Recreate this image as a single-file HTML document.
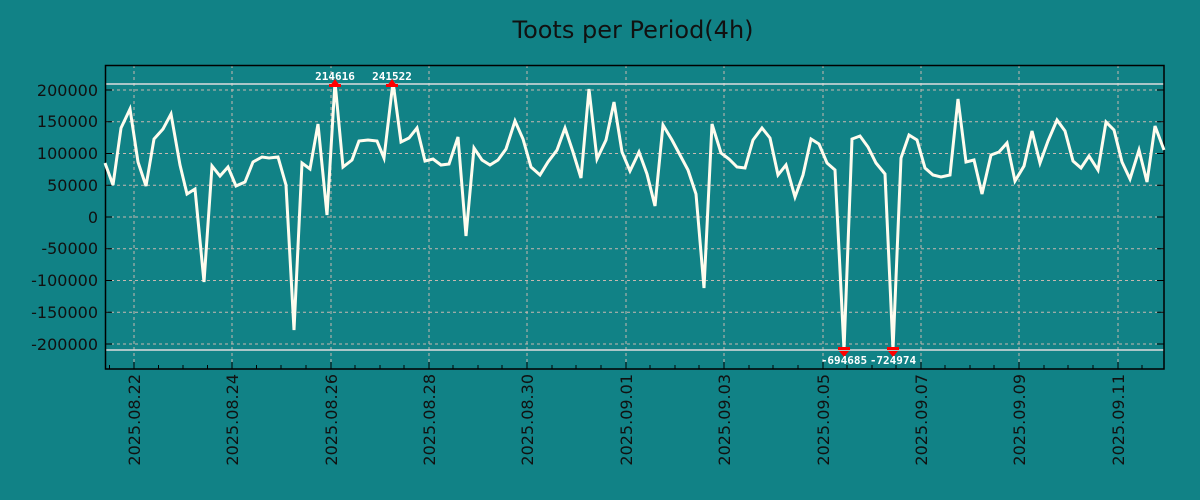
<!DOCTYPE html>
<html><head><style>body{margin:0;background:#118286;}svg{display:block}</style></head><body>
<svg width="1200" height="500" xmlns="http://www.w3.org/2000/svg" font-family="DejaVu Sans, sans-serif">
<rect width="1200" height="500" fill="#118286"/>
<text x="633" y="38" font-size="24" text-anchor="middle" fill="#111">Toots per Period(4h)</text>
<g stroke="#c8b8b0" stroke-width="1" stroke-dasharray="3,3">
<line x1="105" x2="1164" y1="90" y2="90"/><line x1="105" x2="1164" y1="121.7" y2="121.7"/><line x1="105" x2="1164" y1="153.5" y2="153.5"/><line x1="105" x2="1164" y1="185.2" y2="185.2"/><line x1="105" x2="1164" y1="217" y2="217"/><line x1="105" x2="1164" y1="248.7" y2="248.7"/><line x1="105" x2="1164" y1="280.5" y2="280.5"/><line x1="105" x2="1164" y1="312.2" y2="312.2"/><line x1="105" x2="1164" y1="344" y2="344"/>
<line y1="65" y2="369" x1="134" x2="134"/><line y1="65" y2="369" x1="232" x2="232"/><line y1="65" y2="369" x1="331" x2="331"/><line y1="65" y2="369" x1="429" x2="429"/><line y1="65" y2="369" x1="527" x2="527"/><line y1="65" y2="369" x1="626" x2="626"/><line y1="65" y2="369" x1="724" x2="724"/><line y1="65" y2="369" x1="823" x2="823"/><line y1="65" y2="369" x1="921" x2="921"/><line y1="65" y2="369" x1="1019" x2="1019"/><line y1="65" y2="369" x1="1118" x2="1118"/>
</g>
<g stroke="#000" stroke-width="1">
<path d="M109.5,369v-4M134,369v-7M158.5,369v-4M183,369v-4M207.5,369v-4M232,369v-7M256.5,369v-4M281,369v-4M306,369v-4M331,369v-7M355,369v-4M380,369v-4M404,369v-4M429,369v-7M453,369v-4M478,369v-4M502,369v-4M527,369v-7M552,369v-4M576,369v-4M601,369v-4M626,369v-7M650,369v-4M675,369v-4M699,369v-4M724,369v-7M749,369v-4M773,369v-4M798,369v-4M823,369v-7M847,369v-4M872,369v-4M896,369v-4M921,369v-7M945,369v-4M970,369v-4M994,369v-4M1019,369v-7M1044,369v-4M1068,369v-4M1093,369v-4M1118,369v-7M1142,369v-4"/>
<path d="M1164,90h-7M1164,121.7h-7M1164,153.5h-7M1164,185.2h-7M1164,217h-7M1164,248.7h-7M1164,280.5h-7M1164,312.2h-7M1164,344h-7M105,90h7M105,121.7h7M105,153.5h7M105,185.2h7M105,217h7M105,248.7h7M105,280.5h7M105,312.2h7M105,344h7"/>
</g>
<line x1="105" x2="1164" y1="84" y2="84" stroke="#ddd" stroke-width="1.5"/>
<line x1="105" x2="1164" y1="350" y2="350" stroke="#ddd" stroke-width="1.5"/>
<rect x="105.5" y="65.5" width="1058.5" height="303.5" fill="none" stroke="#000" stroke-width="1.5"/>
<g font-size="16" fill="#111" text-anchor="end">
<text x="98" y="96">200000</text><text x="98" y="127">150000</text><text x="98" y="159">100000</text><text x="98" y="191">50000</text><text x="98" y="223">0</text><text x="98" y="254">-50000</text><text x="98" y="286">-100000</text><text x="98" y="318">-150000</text><text x="98" y="350">-200000</text>
</g>
<g font-size="16" fill="#111" text-anchor="end">
<text transform="translate(140,374) rotate(-90)">2025.08.22</text>
<text transform="translate(238,374) rotate(-90)">2025.08.24</text>
<text transform="translate(337,374) rotate(-90)">2025.08.26</text>
<text transform="translate(435,374) rotate(-90)">2025.08.28</text>
<text transform="translate(533,374) rotate(-90)">2025.08.30</text>
<text transform="translate(632,374) rotate(-90)">2025.09.01</text>
<text transform="translate(730,374) rotate(-90)">2025.09.03</text>
<text transform="translate(829,374) rotate(-90)">2025.09.05</text>
<text transform="translate(927,374) rotate(-90)">2025.09.07</text>
<text transform="translate(1025,374) rotate(-90)">2025.09.09</text>
<text transform="translate(1124,374) rotate(-90)">2025.09.11</text>
</g>
<polyline fill="none" stroke="#fffcee" stroke-width="3" stroke-linejoin="miter" points="105,163 113,185 121,128 130,109 138,162 146,186 154,139 163,129 171,114 180,165 187,194 195,189 204,282 212,166 220,176 228,167 236,186 245,182 253,162 262,157 269,158 278,157 286,185 294,330 302,163 310,169 318,124 327,215 335,82 343,167 352,160 359,141 368,140 377,141 384,158 393,82 401,142 409,138 417,128 425,161 433,159 441,165 449,164 458,137 466,236 474,148 482,160 490,165 498,160 506,149 515,121 523,139 531,167 540,175 548,162 557,150 565,128 573,152 581,178 589,89 597,159 606,140 614,102 622,152 630,171 639,152 647,174 655,206 663,125 672,140 680,155 688,170 696,194 704,288 712,124 721,153 729,159 737,167 745,168 753,140 762,128 770,138 778,175 786,165 795,197 803,175 811,139 819,144 827,163 835,170 844,350 852,139 860,136 868,147 876,163 885,174 893,350 901,158 909,135 917,140 925,168 933,175 941,177 950,175 958,99 966,162 974,160 982,194 991,155 999,152 1007,143 1015,181 1024,166 1032,131 1040,163 1048,141 1057,120 1065,131 1073,161 1081,168 1089,156 1098,170 1106,122 1114,130 1122,162 1130,179 1139,150 1147,182 1155,126 1164,150"/>
<g fill="#f00">
<polygon points="330,86 335,79 340,86"/><rect x="329" y="84" width="12" height="3"/>
<polygon points="387,86 392,79 397,86"/><rect x="386" y="84" width="12" height="3"/>
<polygon points="839,351 844,357 849,351"/><rect x="838" y="347" width="12" height="3"/>
<polygon points="888,351 893,357 898,351"/><rect x="887" y="347" width="12" height="3"/>
</g>
<g font-family="DejaVu Sans Mono, monospace" font-size="11" font-weight="bold" fill="#fff" text-anchor="middle">
<text x="335" y="80">214616</text><text x="392" y="80">241522</text>
<text x="844" y="364">-694685</text><text x="893" y="364">-724974</text>
</g>
</svg>
</body></html>
